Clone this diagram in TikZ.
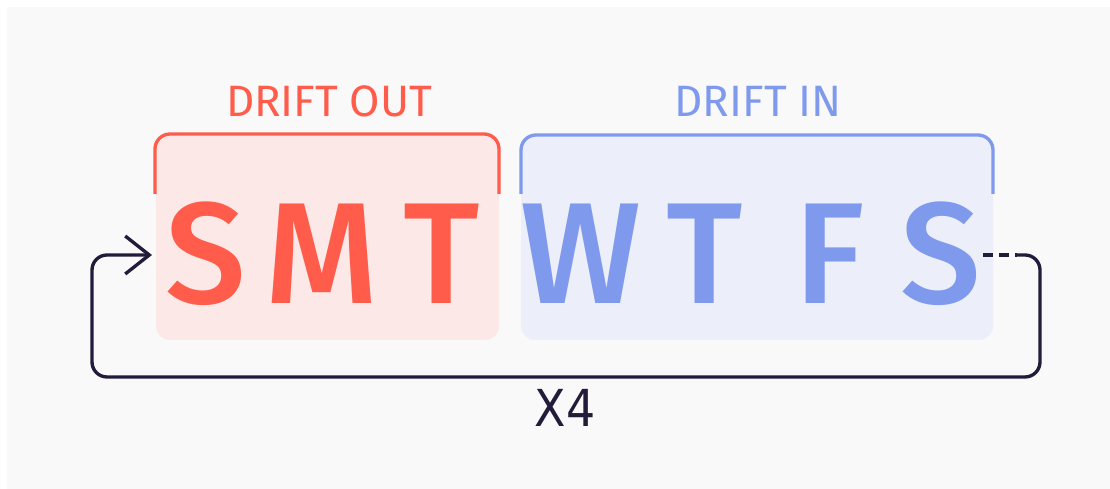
\documentclass[tikz,border=0pt]{standalone}
\usepackage{fontspec}
\setmainfont{Fira Sans}
\newfontfamily\dayfont{Fira Sans Medium}
\newfontfamily\condfont{DejaVu Sans Condensed}
\usetikzlibrary{arrows.meta, calc}
\definecolor{outred}{HTML}{FF5C4B}
\definecolor{outfill}{HTML}{FCE9E7}
\definecolor{inblue}{HTML}{7F99EC}
\definecolor{infill}{HTML}{ECEFF9}
\definecolor{loopink}{HTML}{231B3A}
\definecolor{paper}{HTML}{F9F9F9}

\begin{document}
\begin{tikzpicture}[x=0.02cm, y=-0.02cm,
  day/.style={font=\dayfont\fontsize{82}{82}\selectfont, inner sep=0pt, anchor=base},
  tag/.style={font=\fontsize{25}{25}\selectfont, inner sep=0pt, anchor=base},
  bracket/.style={line width=1.9pt, rounded corners=0.3cm},
  loop/.style={loopink, line width=1.9pt, rounded corners=0.3cm}]
  \useasboundingbox (0,0) rectangle (1110,489);
  \fill[white] (0,0) rectangle (1110,489);
  \fill[paper] (7,7) rectangle (1110,489);
  % the two weeks halves
  \fill[outfill, rounded corners=0.28cm] (156,134) rectangle (499,340);
  \fill[infill, rounded corners=0.28cm] (521,135) rectangle (993,340);
  \draw[bracket, outred] (155,194) -- (155,134) -- (499,134) -- (499,194);
  \draw[bracket, inblue] (521,194) -- (521,135) -- (993,135) -- (993,194);
  \path (329,117) node[tag, text=outred] (out) {DRIFT OUT}
    (758,117) node[tag, text=inblue] (in) {DRIFT IN};
  \path[text=outred] (206,304) node[day] (d1) {S} (322,304) node[day] (d2) {M}
    (442,304) node[day] (d3) {T};
  \path[text=inblue] (581,304) node[day] (d4) {W} (705,304) node[day] (d5) {T}
    (830,304) node[day] (d6) {F} (941,304) node[day] (d7) {S};
  % repeat loop
  \coordinate (from) at (983,255);
  \coordinate (bend) at (1017,255);
  \coordinate (to) at (152,255);
  \draw[loopink, line width=1.9pt, dash pattern=on 5.7pt off 3.4pt] (from) -- (bend);
  \draw[loop, -{Straight Barb[length=13.7pt, width=21.6pt]}]
    (bend) -- (1040,255) -- (1040,377) -- (92,377) -- (92,255) -- (to);
  \node[font=\condfont\fontsize{29}{29}\selectfont, text=loopink, inner sep=0pt, anchor=base] (times) at (565,427) {X4};
\end{tikzpicture}
\end{document}
